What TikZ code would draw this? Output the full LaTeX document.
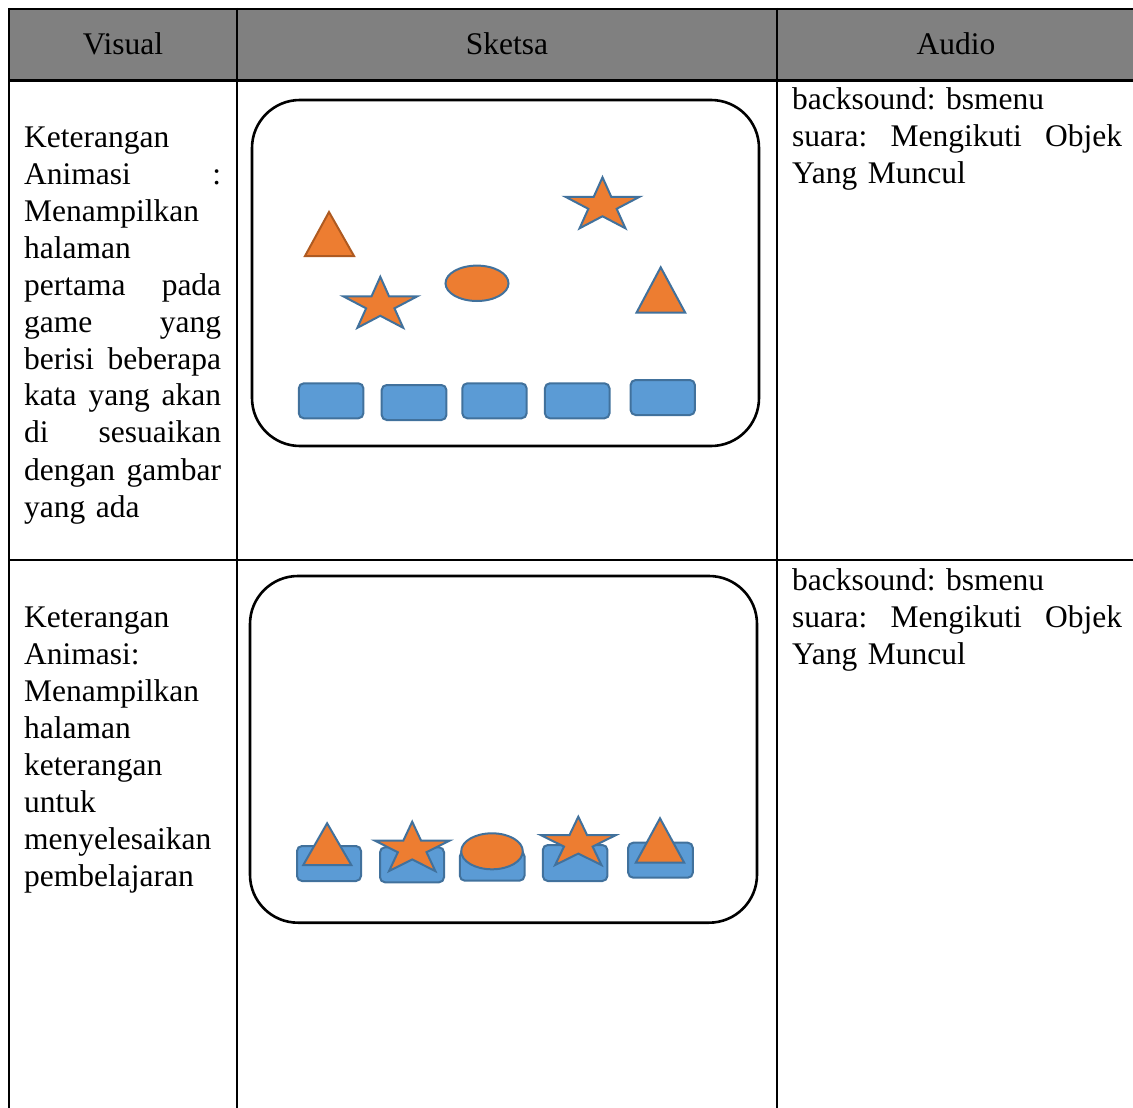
\documentclass[tikz,border=0pt]{standalone}
\usepackage{fontspec}
\setmainfont{Liberation Serif}
\frenchspacing
\definecolor{headgray}{RGB}{128,128,128}
\definecolor{tileblue}{RGB}{91,155,213}
\definecolor{tileedge}{RGB}{65,113,156}
\definecolor{pieceorange}{RGB}{237,125,49}
\definecolor{pieceedge}{RGB}{174,90,33}

% one justified line of a given width (words separated by \hfill)
\newcommand\fullline[2]{\makebox[#1][l]{#2}}
% five-pointed star: centre x, centre y, x radius, y radius, extra style
\newcommand\sketchstar[5]{%
  \path[piece,#5,shift={(#1,#2)},xscale=#3,yscale=-#4]
    (90:1) -- (126:0.382) -- (162:1) -- (198:0.382) -- (234:1) --
    (270:0.382) -- (306:1) -- (342:0.382) -- (18:1) -- (54:0.382) -- cycle;}
% triangle: apex x, apex y, base left x, base right x, base y, extra style
\newcommand\sketchtri[6]{%
  \path[piece,#6] (#1,#2) -- (#3,#5) -- (#4,#5) -- cycle;}

\begin{document}
\begin{tikzpicture}[x=1pt,y=-1pt,
  gridline/.style={line width=2.2pt,draw=black},
  frame/.style={draw=black,line width=2.6pt,rounded corners=48pt},
  tile/.style={fill=tileblue,draw=tileedge,line width=2pt,rounded corners=5pt},
  piece/.style={fill=pieceorange,draw=tileedge,line width=2pt,line join=miter},
  celltext/.style={font=\fontsize{31.5}{37}\selectfont,inner sep=0pt,align=left,anchor=base west},
  headtext/.style={font=\fontsize{31.5}{37}\selectfont,inner sep=0pt,anchor=base}]

\useasboundingbox (0,0) rectangle (1133,1108);

% table header and rules
\fill[headgray] (9,9) rectangle (1140,80.5);
\draw[gridline] (9,9) -- (1140,9);
\draw[gridline] (9,80.5) -- (1140,80.5);
\draw[gridline] (9,560) -- (1140,560);
\draw[gridline] (9,8) -- (9,1115);
\draw[gridline] (237,8) -- (237,1115);
\draw[gridline] (777,8) -- (777,1115);

\node[headtext] (hvisual) at (123,55) {Visual};
\node[headtext] (hsketsa) at (507,55) {Sketsa};
\node[headtext] (haudio)  at (956,55) {Audio};

% first row: description
\node[celltext,text width=197pt] (vis1) at (24,147) {%
Keterangan\\
\fullline{197pt}{Animasi\hfill:}\\
Menampilkan\\
halaman\\
\fullline{197pt}{pertama\hfill pada}\\
\fullline{197pt}{game\hfill yang}\\
\fullline{197pt}{berisi\hfill beberapa}\\
\fullline{197pt}{kata\hfill yang\hfill akan}\\
\fullline{197pt}{di\hfill sesuaikan}\\
\fullline{197pt}{dengan\hfill gambar}\\
yang ada};

\node[celltext,text width=330pt] (aud1) at (792,110) {%
backsound: bsmenu\\
\fullline{330pt}{suara:\hfill Mengikuti\hfill Objek}\\
Yang Muncul};

% first row: sketch screen
\draw[frame] (252,100) rectangle (759,446);
\sketchtri{329}{212}{305}{354}{256}{draw=pieceedge}
\sketchstar{380.3}{305}{39}{28.2}{}
\path[piece] (477,283.3) ellipse [x radius=31.5,y radius=17.7];
\sketchstar{602.5}{205.5}{39}{28.2}{}
\sketchtri{660.7}{267.3}{636.5}{685.2}{312.7}{}
\draw[tile] (298.8,383.3) rectangle (363.4,418.3);
\draw[tile] (381.7,385)   rectangle (446.4,420);
\draw[tile] (462.3,383.3) rectangle (526.6,418.3);
\draw[tile] (544.9,383.3) rectangle (609.5,418.3);
\draw[tile] (630.6,380)   rectangle (694.9,415);

% second row: description
\node[celltext,text width=197pt] (vis2) at (24,627) {%
Keterangan\\
Animasi:\\
Menampilkan\\
halaman\\
keterangan\\
untuk\\
menyelesaikan\\
pembelajaran};

\node[celltext,text width=330pt] (aud2) at (792,590) {%
backsound: bsmenu\\
\fullline{330pt}{suara:\hfill Mengikuti\hfill Objek}\\
Yang Muncul};

% second row: sketch screen with matched pieces
\draw[frame] (250,576) rectangle (757,922.7);
\draw[tile] (297,846) rectangle (361,881);
\sketchtri{327.1}{823.3}{303.3}{351.3}{865}{}
\draw[tile] (380,847.3) rectangle (444,882.3);
\sketchstar{412.2}{849}{39.4}{27.3}{}
\draw[tile] (459.8,851.3) rectangle (524.5,880.7);
\path[piece] (492,851.3) ellipse [x radius=30.8,y radius=18];
\draw[tile] (542.8,845) rectangle (607.4,881);
\sketchstar{578.3}{843.4}{39.4}{26.7}{}
\draw[tile] (628.2,842.7) rectangle (692.8,877.7);
\sketchtri{660}{818.3}{635.8}{684.2}{862.7}{}

\end{tikzpicture}
\end{document}
